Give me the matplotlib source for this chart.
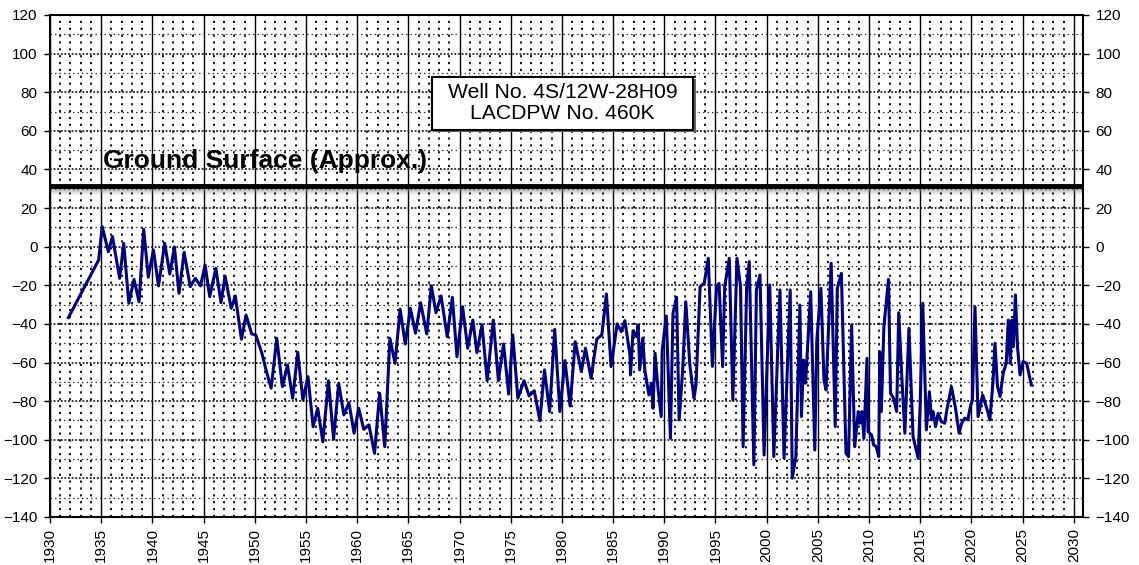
import matplotlib
matplotlib.use("Agg")
import matplotlib.pyplot as plt
from matplotlib.patches import Rectangle
from matplotlib.ticker import MultipleLocator

plt.rcParams['font.family'] = ['Liberation Sans', 'DejaVu Sans']

# groundwater elevation readings (year, ft)
years = [1931.8, 1934.75, 1935.1, 1935.7, 1936.1, 1936.8, 1937.2, 1937.7, 1938.2, 1938.7,
         1939.15, 1939.6, 1940.1, 1940.6, 1941.2, 1941.7, 1942.15, 1942.6, 1943.1, 1943.7,
         1944.2, 1944.7, 1945.15, 1945.6, 1946.2, 1946.7, 1947.1, 1947.7, 1948.1, 1948.7,
         1949.15, 1949.7, 1950.1, 1950.7, 1951.1, 1951.6, 1952.15, 1952.7, 1953.2, 1953.7,
         1954.2, 1954.7, 1955.2, 1955.7, 1956.15, 1956.65, 1957.2, 1957.7, 1958.2, 1958.7,
         1959.2, 1959.7, 1960.15, 1960.65, 1961.15, 1961.7, 1962.2, 1962.7, 1963.2, 1963.7,
         1964.2, 1964.7, 1965.2, 1965.7, 1966.2, 1966.8, 1967.25, 1967.7, 1968.2, 1968.8,
         1969.3, 1969.75, 1970.3, 1970.8, 1971.3, 1971.7, 1972.2, 1972.7, 1973.3, 1973.8,
         1974.3, 1974.8, 1975.2, 1975.7, 1976.3, 1976.8, 1977.3, 1977.85, 1978.3, 1978.8,
         1979.3, 1979.8, 1980.3, 1980.8, 1981.3, 1981.9, 1982.3, 1982.85, 1983.4, 1983.9,
         1984.35, 1984.8, 1985.4, 1985.8, 1986.15, 1986.65, 1986.7, 1986.95, 1987.3, 1987.45,
         1987.6, 1987.9, 1988.1, 1988.5, 1988.75, 1988.9, 1989.1, 1989.4, 1989.7, 1989.8,
         1990.2, 1990.6, 1990.85, 1991.2, 1991.45, 1991.8, 1992.1, 1992.5, 1992.9, 1993.1,
         1993.5, 1993.9, 1994.3, 1994.7, 1995.1, 1995.35, 1995.7, 1995.9, 1996.35, 1996.7,
         1997.1, 1997.45, 1997.7, 1998.05, 1998.3, 1998.75, 1999.0, 1999.35, 1999.75, 2000.3,
         2000.7, 2001.3, 2001.7, 2002.3, 2002.5, 2002.85, 2003.25, 2003.4, 2003.6, 2003.8,
         2004.3, 2004.7, 2004.9, 2005.3, 2005.6, 2005.8, 2006.3, 2006.7, 2006.9, 2007.3,
         2007.75, 2008.0, 2008.3, 2008.6, 2008.95, 2009.1, 2009.3, 2009.5, 2009.8, 2009.9,
         2010.25, 2010.45, 2010.7, 2010.95, 2011.05, 2011.2, 2011.45, 2011.9, 2012.1, 2012.4,
         2012.7, 2012.9, 2013.2, 2013.5, 2013.9, 2014.3, 2014.8, 2015.0, 2015.25, 2015.6,
         2015.9, 2016.1, 2016.25, 2016.5, 2016.75, 2017.05, 2017.4, 2017.6, 2018.05, 2018.45,
         2018.8, 2019.05, 2019.35, 2019.65, 2019.9, 2020.1, 2020.35, 2020.65, 2021.1, 2021.5,
         2021.8, 2022.1, 2022.3, 2022.55, 2022.8, 2023.1, 2023.4, 2023.6, 2023.8, 2023.95,
         2024.1, 2024.3, 2024.5, 2024.75, 2025.05, 2025.4, 2025.85]
levels = [-36.7, -6.9, 10.4, -2.6, 5.3, -16.4, 1.7, -29.3, -16.9, -28.5,
          9.0, -15.8, -1.7, -20.3, 1.8, -14.1, -0.1, -24.1, -2.9, -20.7,
          -16.4, -20.3, -9.5, -25.9, -11.2, -29.0, -15.2, -31.9, -25.5, -47.9,
          -35.4, -45.2, -45.7, -55.2, -63.8, -73.3, -47.4, -72.5, -61.3, -78.5,
          -54.7, -79.4, -67.3, -93.2, -83.7, -101.0, -69.4, -99.7, -70.7, -87.1,
          -80.8, -96.6, -83.7, -94.6, -92.3, -107.0, -75.9, -103.6, -47.4, -60.4,
          -32.4, -50.4, -31.9, -44.8, -29.0, -45.2, -20.3, -34.2, -25.5, -46.6,
          -26.2, -57.0, -31.1, -52.6, -38.0, -54.9, -40.5, -69.4, -38.0, -69.4,
          -50.4, -76.3, -45.7, -78.5, -69.4, -77.3, -74.6, -90.1, -63.8, -85.4,
          -42.8, -85.4, -59.0, -82.5, -49.2, -64.7, -52.6, -68.1, -47.9, -45.7,
          -24.5, -62.1, -40.0, -44.0, -38.3, -56.1, -66.4, -43.5, -46.6, -40.5,
          -63.8, -47.4, -63.8, -76.8, -70.7, -83.7, -55.2, -74.2, -88.0, -53.5,
          -35.9, -99.2, -34.5, -26.2, -89.7, -63.8, -28.5, -61.3, -78.5, -71.6,
          -20.7, -19.0, -6.0, -62.0, -20.7, -19.0, -62.1, -20.7, -6.0, -79.4,
          -6.0, -20.7, -103.6, -20.7, -7.7, -113.0, -22.4, -14.6, -107.9, -19.8,
          -108.7, -22.4, -109.6, -22.4, -119.9, -108.7, -30.2, -88.0, -58.7, -70.7,
          -23.3, -105.3, -48.3, -21.6, -69.0, -74.2, -8.6, -93.2, -21.6, -13.8,
          -107.0, -108.7, -40.5, -103.6, -85.4, -91.4, -85.4, -99.2, -57.8, -95.8,
          -97.5, -102.7, -103.6, -108.7, -54.4, -85.4, -41.4, -16.9, -75.9, -78.5,
          -85.4, -34.2, -67.3, -96.6, -42.3, -98.4, -109.6, -81.1, -29.3, -94.9,
          -75.1, -89.7, -85.4, -93.2, -86.3, -90.6, -91.4, -84.6, -72.5, -83.7,
          -96.6, -91.4, -88.8, -89.7, -82.8, -79.4, -31.1, -88.0, -76.8, -83.7,
          -89.7, -70.7, -50.0, -72.5, -77.6, -65.6, -60.4, -38.0, -60.4, -38.0,
          -51.8, -25.0, -51.8, -66.4, -59.5, -60.4, -71.6]

ground_surface = 31.5
well_label = "Well No. 4S/12W-28H09\nLACDPW No. 460K"

fig = plt.figure(figsize=(11.39, 5.65), dpi=100)
ax = fig.add_axes([50 / 1139, 1 - 517 / 565, 1033 / 1139, 502 / 565])

ax.set_xlim(1930, 2030.9)
ax.set_ylim(-140, 120)
ax.xaxis.set_major_locator(MultipleLocator(5))
ax.xaxis.set_minor_locator(MultipleLocator(1))
ax.yaxis.set_major_locator(MultipleLocator(20))
ax.yaxis.set_minor_locator(MultipleLocator(10))

# excel-style grid
ax.grid(which='major', axis='x', color='black', lw=1.0, ls='-')
ax.grid(which='minor', axis='x', color='black', lw=1.3, ls=(0, (1.2, 2.6)))
ax.grid(which='major', axis='y', color='#222222', lw=1.3, ls=(0, (1, 1)))
ax.grid(which='minor', axis='y', color='#333333', lw=0.9, ls=(0, (1.2, 2.4)))
ax.set_axisbelow(True)

ax.tick_params(axis='both', which='major', labelsize=11, length=4, width=1,
               direction='out')
ax.tick_params(axis='both', which='minor', length=0)
ax.tick_params(axis='y', which='major', left=True, right=True,
               labelleft=True, labelright=True, pad=5)
ax.tick_params(axis='x', which='major', pad=4)
for lab in ax.get_xticklabels():
    lab.set_rotation(90)

for s in ax.spines.values():
    s.set_linewidth(1.5)
    s.set_color('black')

# ground surface line with soft shadow
for k in range(1, 9):
    ax.axhline(ground_surface - 0.55 * k, color='gray', lw=1.6,
               alpha=0.45 * (1 - k / 9), zorder=2)
ax.axhline(ground_surface, color='black', lw=3.5, zorder=3)
ax.text(1935.2, 40.5, "Ground Surface (Approx.)", fontsize=19,
        fontweight='bold', ha='left', va='baseline', zorder=4)

ax.plot(years, levels, color='#000080', lw=2.2, zorder=5)

# well label box
ax.add_patch(Rectangle((1967.6, 59.4), 25.5, 27.5, facecolor='#666666',
                       edgecolor='none', zorder=5))
ax.add_patch(Rectangle((1967.3, 60.4), 25.5, 27.5, facecolor='white',
                       edgecolor='black', lw=1.5, zorder=6))
ax.text(1980.05, 74.3, well_label, fontsize=15.2, ha='center', va='center',
        linespacing=1.15, zorder=7)

fig.savefig("out.png", dpi=100)
